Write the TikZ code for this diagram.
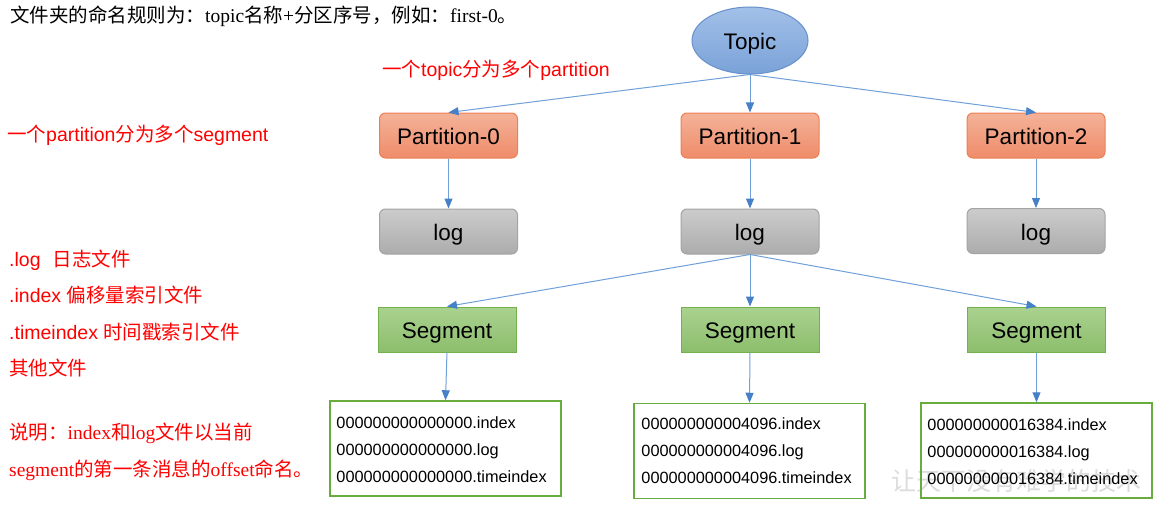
\documentclass[tikz,border=0pt]{standalone}
\usepackage{fontspec}
\setmainfont{Liberation Serif}
\newfontfamily\cjkfont{Noto Sans CJK SC}
\newfontfamily\arialfont{Liberation Sans}
\usetikzlibrary{arrows.meta,shapes.geometric}
\newcommand{\zh}[1]{{\cjkfont #1}}
\definecolor{arrowline}{RGB}{112,160,216}
\definecolor{arrowtip}{RGB}{70,128,200}
\definecolor{parttop}{RGB}{244,178,152}
\definecolor{partbot}{RGB}{239,140,106}
\definecolor{partborder}{RGB}{236,128,84}
\definecolor{logtop}{RGB}{204,204,204}
\definecolor{logbot}{RGB}{172,172,172}
\definecolor{logborder}{RGB}{164,164,164}
\definecolor{segtop}{RGB}{170,210,144}
\definecolor{segbot}{RGB}{140,190,108}
\definecolor{segborder}{RGB}{116,176,76}
\definecolor{topictop}{RGB}{162,192,232}
\definecolor{topicbot}{RGB}{122,162,216}
\definecolor{topicborder}{RGB}{104,144,204}
\definecolor{fileborder}{RGB}{104,172,62}
\definecolor{redtext}{RGB}{255,0,0}
\definecolor{wmark}{RGB}{220,220,220}
\begin{document}
\begin{tikzpicture}[x=1pt,y=-1pt,
  conn/.style={draw=arrowline, line width=1pt, -{Triangle[length=10pt,width=8pt,color=arrowtip]}},
  box/.style={minimum width=138pt, minimum height=45pt, inner sep=0pt, line width=1pt,
    text height=18.5pt, text depth=0pt,
    font=\arialfont\fontsize{22.5}{26}\selectfont},
  partbox/.style={box, rounded corners=6pt, draw=partborder, top color=parttop, bottom color=partbot},
  logbox/.style={box, rounded corners=6pt, draw=logborder, top color=logtop, bottom color=logbot},
  segbox/.style={box, draw=segborder, top color=segtop, bottom color=segbot},
  topicnode/.style={ellipse, minimum width=116pt, minimum height=67pt, inner sep=0pt, line width=1pt,
    text height=18.5pt, text depth=0pt,
    draw=topicborder, top color=topictop, bottom color=topicbot,
    font=\arialfont\fontsize{22.5}{26}\selectfont},
  filebox/.style={draw=fileborder, line width=1.5pt, minimum width=231pt, inner sep=0pt,
    minimum height=95pt},
  filetext/.style={anchor=north west, inner sep=0pt, align=left, font=\arialfont\fontsize{16.3}{27}\selectfont},
  redsans/.style={text=redtext, anchor=west, inner sep=0pt, font=\arialfont\fontsize{19.5}{23}\selectfont},
  redserif/.style={text=redtext, anchor=west, inner sep=0pt, font=\fontsize{19.5}{23}\selectfont},
  blackserif/.style={text=black, anchor=west, inner sep=0pt, font=\fontsize{19.5}{23}\selectfont},
  watermark/.style={text=wmark, inner sep=0pt, font=\cjkfont\fontsize{25}{28}\selectfont}
]
\fill[white] (0,0) rectangle (1168,511);
\useasboundingbox (0,0) rectangle (1168,511);

% texts
\node[blackserif] (title) at (10,16) {\zh{文件夹的命名规则为：}topic\zh{名称}+\zh{分区序号，例如：}first-0\zh{。}};
\node[redsans] (lbltopic) at (382,70) {\zh{一个}topic\zh{分为多个}partition};
\node[redsans] (lblpart) at (7,135) {\zh{一个}partition\zh{分为多个}segment};
\node[redsans] (lbllog) at (9,260) {.log\hspace{12pt}\zh{日志文件}};
\node[redsans] (lblindex) at (9,295) {.index \zh{偏移量索引文件}};
\node[redsans] (lbltime) at (9,332) {.timeindex \zh{时间戳索引文件}};
\node[redsans] (lblother) at (9,368) {\zh{其他文件}};
\node[redserif] (note1) at (9,433) {\zh{说明：}index\zh{和}log\zh{文件以当前}};
\node[redserif] (note2) at (9,470) {segment\zh{的第一条消息的}offset\zh{命名。}};

% watermark
\node[watermark] (wm) at (1016,481) {让天下没有难学的技术};

% nodes
\node[topicnode] (topic) at (750,40.5) {Topic};
\node[partbox] (p0) at (448.5,135.5) {Partition-0};
\node[partbox] (p1) at (750,135.5) {Partition-1};
\node[partbox] (p2) at (1036,135.5) {Partition-2};
\node[logbox] (l0) at (448.5,231.5) {log};
\node[logbox] (l1) at (750,231.5) {log};
\node[logbox] (l2) at (1036,231) {log};
\node[segbox] (s0) at (447,329.5) {Segment};
\node[segbox] (s1) at (750,329.5) {Segment};
\node[segbox] (s2) at (1036.5,329.5) {Segment};
\node[filebox] (f0) at (445.5,448.5) {};
\node[filebox] (f1) at (749.5,451) {};
\node[filebox] (f2) at (1036.5,450.5) {};
\node[filetext] (t0) at ([xshift=7pt,yshift=-16pt]f0.north west) {000000000000000.index\\000000000000000.log\\000000000000000.timeindex};
\node[filetext] (t1) at ([xshift=8pt,yshift=-15pt]f1.north west) {000000000004096.index\\000000000004096.log\\000000000004096.timeindex};
\node[filetext] (t2) at ([xshift=7pt,yshift=-16pt]f2.north west) {000000000016384.index\\000000000016384.log\\000000000016384.timeindex};

% connectors
\draw[conn] (topic.south) -- (p0.north);
\draw[conn] (topic.south) -- (p1.north);
\draw[conn] (topic.south) -- (p2.north);
\draw[conn] (p0.south) -- (l0.north);
\draw[conn] (p1.south) -- (l1.north);
\draw[conn] (p2.south) -- (l2.north);
\draw[conn] (l1.south) -- (s0.north);
\draw[conn] (l1.south) -- (s1.north);
\draw[conn] (l1.south) -- (s2.north);
\draw[conn] (s0.south) -- (f0.north);
\draw[conn] (s1.south) -- (f1.north);
\draw[conn] (s2.south) -- (f2.north);
\end{tikzpicture}
\end{document}
